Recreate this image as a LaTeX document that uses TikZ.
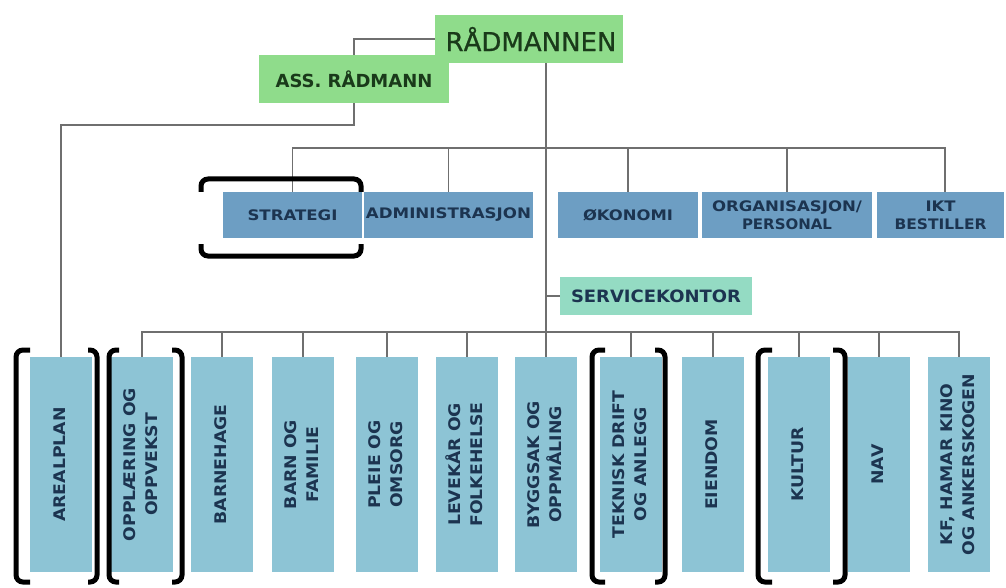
\documentclass[tikz,border=0pt]{standalone}
\usepackage{fontspec}
\usepackage{graphicx}
\usetikzlibrary{backgrounds}
\setmainfont{DejaVu Sans}
\newfontfamily\radfont[FakeBold=0.8]{DejaVu Sans}
\newfontfamily\bfnt{DejaVu Sans Bold}
\newfontfamily\wfnt[FakeStretch=1.08]{DejaVu Sans Bold}
\definecolor{grn}{HTML}{8FDC8B}
\definecolor{gtext}{HTML}{1A3A1A}
\definecolor{ublue}{HTML}{6D9EC3}
\definecolor{lblue}{HTML}{8DC4D5}
\definecolor{svcc}{HTML}{94DBC3}
\definecolor{navy}{HTML}{1C3450}
\definecolor{linegray}{HTML}{6F6F6F}
\newcommand{\vtxt}[1]{\rotatebox{90}{\begin{tabular}{@{}c@{}}#1\end{tabular}}}
\newcommand{\hw}[2]{\resizebox{#1}{\height}{#2}}
\tikzset{
  conn/.style={draw=linegray, line width=1.5pt},
  gbox/.style={fill=grn, text=gtext, inner sep=0pt, align=center},
  ubox/.style={fill=ublue, text=navy, inner sep=0pt, align=center, minimum height=46pt,
    font=\wfnt\fontsize{14.5}{18}\selectfont},
  lbox/.style={fill=lblue, text=navy, inner sep=0pt, minimum width=62pt, minimum height=215pt,
    font=\wfnt\fontsize{16}{22}\selectfont},
  sbox/.style={fill=svcc, text=navy, inner sep=0pt, minimum width=192pt, minimum height=38pt,
    font=\bfnt\fontsize{17}{20}\selectfont},
  brk/.style={draw=black, line width=5pt, rounded corners=7pt},
}
\begin{document}
\begin{tikzpicture}[x=1pt,y=-1pt]
\useasboundingbox (0,0) rectangle (1006,588);
% nodes
\node[gbox, minimum width=190pt, minimum height=48pt, font=\bfnt\fontsize{18}{20}\selectfont] (ass) at (354,79) {ASS. RÅDMANN};
\node[gbox, minimum width=188pt, minimum height=48pt, font=\radfont\fontsize{26}{28}\selectfont] (rad) at (529,39) {\hspace{4pt}RÅDMANNEN};

\node[ubox, minimum width=139pt] (strat) at (292.5,215) {\hw{90pt}{STRATEGI}};
\node[ubox, minimum width=169pt] (adm) at (448.5,215) {\hw{165pt}{ADMINISTRASJON}};
\node[ubox, minimum width=140pt] (oko) at (628,215) {\hw{90pt}{ØKONOMI}};
\node[ubox, minimum width=170pt] (org) at (787,215) {\hw{150pt}{ORGANISASJON/}\\\hw{90pt}{PERSONAL}};
\node[ubox, minimum width=127pt] (ikt) at (940.5,215) {\hw{30pt}{IKT}\\\hw{92pt}{BESTILLER}};

\node[sbox] (svc) at (656,296) {\hw{170pt}{SERVICEKONTOR}};

\node[lbox] (areal) at (61,464.5) {\vtxt{AREALPLAN}};
\node[lbox] (oppl) at (142,464.5) {\vtxt{OPPLÆRING OG\\OPPVEKST}};
\node[lbox] (bhage) at (222,464.5) {\vtxt{BARNEHAGE}};
\node[lbox] (barn) at (303,464.5) {\vtxt{BARN OG\\FAMILIE}};
\node[lbox] (pleie) at (387,464.5) {\vtxt{PLEIE OG\\OMSORG}};
\node[lbox] (lev) at (467,464.5) {\vtxt{LEVEKÅR OG\\FOLKEHELSE}};
\node[lbox] (bygg) at (546,464.5) {\vtxt{BYGGSAK OG\\OPPMÅLING}};
\node[lbox] (tekn) at (631,464.5) {\vtxt{TEKNISK DRIFT\\OG ANLEGG}};
\node[lbox] (eien) at (713,464.5) {\vtxt{EIENDOM}};
\node[lbox] (kult) at (799,464.5) {\vtxt{KULTUR}};
\node[lbox] (nav) at (879,464.5) {\vtxt{NAV}};
\node[lbox] (kf) at (959,464.5) {\vtxt{KF, HAMAR KINO\\OG ANKERSKOGEN}};

\coordinate (ub) at (0,148);
\coordinate (lb) at (0,332);
\coordinate (iktdrop) at (945,192);

% connectors (behind boxes)
\begin{scope}[on background layer]
\fill[white] (0,0) rectangle (1006,588);
\draw[conn] (rad.west) -| (ass.north);
\draw[conn] (ass.south) -- ++(0,22) -| (areal.north);
\draw[conn] (rad.south -| bygg.north) -- (bygg.north);
\draw[conn] (svc.west -| bygg.north) -- (svc.west);
\draw[conn] (strat.north) -- (strat.north |- ub) -- (iktdrop |- ub) -- (iktdrop);
\foreach \n in {adm,oko,org} \draw[conn] (\n.north |- ub) -- (\n.north);
\draw[conn] (oppl.north) -- (oppl.north |- lb) -- (kf.north |- lb) -- (kf.north);
\foreach \n in {bhage,barn,pleie,lev,tekn,eien,kult,nav} \draw[conn] (\n.north |- lb) -- (\n.north);
\end{scope}

% brackets
\draw[brk] (201,192) -- (201,179) -- (361,179) -- (361,192);
\draw[brk] (201,244) -- (201,256) -- (361,256) -- (361,244);
\draw[brk] (30,350) -- (16,350) -- (16,582) -- (30,582);
\draw[brk] (88,350) -- (97,350) -- (97,582) -- (88,582);
\draw[brk] (119,350) -- (109,350) -- (109,582) -- (119,582);
\draw[brk] (172,350) -- (182,350) -- (182,582) -- (172,582);
\draw[brk] (605,350) -- (592,350) -- (592,582) -- (605,582);
\draw[brk] (655,350) -- (665,350) -- (665,582) -- (655,582);
\draw[brk] (772,350) -- (758,350) -- (758,582) -- (772,582);
\draw[brk] (833,350) -- (845,350) -- (845,582) -- (833,582);
\end{tikzpicture}
\end{document}
